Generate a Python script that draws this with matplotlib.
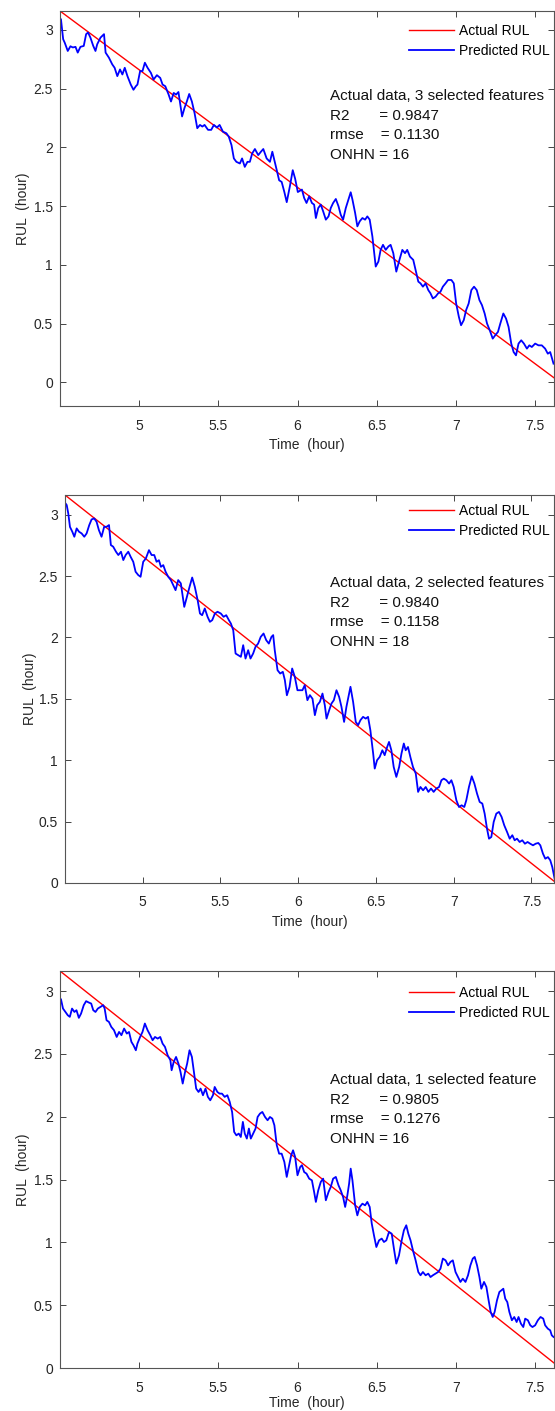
import matplotlib
matplotlib.use('Agg')
import matplotlib.pyplot as plt

plt.rcParams['font.family'] = 'Liberation Sans'

W, H = 555, 1411

# actual remaining useful life (straight countdown)
actual_time = [4.5, 7.66]
actual_rul = [3.16, 0.0]

# predicted RUL, 3 selected features
time_f3 = [4.496, 4.506, 4.52, 4.53, 4.549, 4.566, 4.581, 4.598, 4.612, 4.629, 4.65, 4.665, 4.677, 4.692,
           4.71, 4.724, 4.735, 4.756, 4.778, 4.788, 4.809, 4.83, 4.845, 4.862, 4.879, 4.894, 4.909, 4.926,
           4.947, 4.964, 4.979, 4.989, 5.006, 5.021, 5.036, 5.053, 5.074, 5.091, 5.112, 5.133, 5.148, 5.165,
           5.186, 5.201, 5.218, 5.233, 5.248, 5.271, 5.286, 5.301, 5.316, 5.333, 5.35, 5.367, 5.384, 5.399,
           5.413, 5.435, 5.455, 5.472, 5.491, 5.508, 5.529, 5.551, 5.566, 5.583, 5.598, 5.614, 5.636, 5.65,
           5.667, 5.684, 5.699, 5.714, 5.731, 5.752, 5.769, 5.784, 5.805, 5.826, 5.841, 5.854, 5.869, 5.884,
           5.9, 5.917, 5.932, 5.953, 5.97, 5.985, 6.002, 6.028, 6.042, 6.057, 6.074, 6.091, 6.105, 6.116,
           6.131, 6.147, 6.162, 6.179, 6.196, 6.21, 6.225, 6.242, 6.259, 6.273, 6.288, 6.305, 6.322, 6.336,
           6.347, 6.364, 6.378, 6.393, 6.41, 6.427, 6.441, 6.456, 6.473, 6.494, 6.511, 6.525, 6.54, 6.557,
           6.574, 6.588, 6.605, 6.624, 6.641, 6.662, 6.679, 6.693, 6.71, 6.731, 6.746, 6.763, 6.777, 6.792,
           6.809, 6.826, 6.84, 6.855, 6.872, 6.888, 6.903, 6.918, 6.935, 6.951, 6.972, 6.987, 7.002, 7.019,
           7.033, 7.05, 7.065, 7.081, 7.098, 7.115, 7.132, 7.149, 7.165, 7.182, 7.197, 7.214, 7.233, 7.249,
           7.266, 7.281, 7.3, 7.317, 7.333, 7.35, 7.365, 7.38, 7.396, 7.413, 7.43, 7.449, 7.464, 7.48,
           7.501, 7.522, 7.543, 7.564, 7.581, 7.596, 7.611, 7.617]
rul_f3 = [3.10, 3.09, 2.92, 2.89, 2.82, 2.86, 2.85, 2.855, 2.806, 2.855, 2.863, 2.963, 2.977, 2.934,
          2.863, 2.82, 2.877, 2.934, 2.963, 2.806, 2.763, 2.706, 2.677, 2.606, 2.663, 2.62, 2.677, 2.606,
          2.534, 2.49, 2.52, 2.534, 2.649, 2.649, 2.72, 2.677, 2.634, 2.577, 2.614, 2.591, 2.534, 2.52,
          2.449, 2.39, 2.463, 2.449, 2.471, 2.263, 2.334, 2.39, 2.454, 2.39, 2.291, 2.163, 2.191, 2.177,
          2.191, 2.149, 2.149, 2.191, 2.169, 2.191, 2.134, 2.12, 2.091, 2.02, 1.906, 1.877, 1.863, 1.906,
          1.834, 1.877, 1.877, 1.949, 1.986, 1.934, 1.963, 1.986, 1.906, 1.877, 1.963, 1.891, 1.806, 1.72,
          1.706, 1.62, 1.534, 1.677, 1.806, 1.734, 1.62, 1.641, 1.57, 1.527, 1.584, 1.527, 1.513, 1.399,
          1.484, 1.513, 1.456, 1.385, 1.413, 1.484, 1.527, 1.561, 1.499, 1.427, 1.385, 1.484, 1.556, 1.618,
          1.556, 1.442, 1.328, 1.371, 1.399, 1.385, 1.413, 1.385, 1.242, 0.986, 1.029, 1.128, 1.171, 1.128,
          1.157, 1.171, 1.1, 0.943, 1.029, 1.128, 1.1, 1.128, 1.071, 1.043, 0.957, 0.858, 0.843, 0.815,
          0.843, 0.786, 0.758, 0.715, 0.73, 0.758, 0.772, 0.815, 0.843, 0.872, 0.872, 0.843, 0.672, 0.559,
          0.487, 0.53, 0.616, 0.672, 0.786, 0.815, 0.786, 0.701, 0.658, 0.587, 0.502, 0.445, 0.373, 0.402,
          0.43, 0.502, 0.587, 0.544, 0.473, 0.331, 0.259, 0.231, 0.331, 0.359, 0.331, 0.288, 0.316, 0.302,
          0.331, 0.316, 0.316, 0.288, 0.245, 0.259, 0.188, 0.16]

# predicted RUL, 2 selected features
time_f2 = [4.5, 4.511, 4.521, 4.532, 4.547, 4.56, 4.575, 4.59, 4.607, 4.624, 4.639, 4.656, 4.671, 4.688,
           4.703, 4.718, 4.735, 4.752, 4.767, 4.783, 4.795, 4.81, 4.828, 4.843, 4.86, 4.875, 4.89, 4.907,
           4.922, 4.939, 4.954, 4.971, 4.986, 5.003, 5.02, 5.04, 5.057, 5.074, 5.089, 5.104, 5.117, 5.132,
           5.147, 5.164, 5.181, 5.196, 5.211, 5.228, 5.245, 5.267, 5.284, 5.301, 5.318, 5.335, 5.353, 5.368,
           5.382, 5.399, 5.417, 5.432, 5.447, 5.464, 5.481, 5.502, 5.52, 5.537, 5.554, 5.567, 5.582, 5.597,
           5.614, 5.631, 5.646, 5.661, 5.678, 5.693, 5.71, 5.725, 5.742, 5.759, 5.777, 5.794, 5.811, 5.828,
           5.839, 5.849, 5.867, 5.884, 5.901, 5.914, 5.927, 5.944, 5.961, 5.978, 5.995, 6.027, 6.042, 6.059,
           6.075, 6.092, 6.107, 6.122, 6.139, 6.156, 6.171, 6.182, 6.199, 6.214, 6.229, 6.246, 6.263, 6.278,
           6.295, 6.31, 6.325, 6.336, 6.353, 6.37, 6.385, 6.4, 6.417, 6.434, 6.449, 6.464, 6.482, 6.492,
           6.507, 6.524, 6.541, 6.556, 6.572, 6.584, 6.599, 6.614, 6.631, 6.649, 6.664, 6.679, 6.691, 6.706,
           6.721, 6.738, 6.756, 6.771, 6.786, 6.803, 6.82, 6.837, 6.854, 6.871, 6.888, 6.906, 6.921, 6.936,
           6.953, 6.97, 6.985, 7.0, 7.017, 7.034, 7.051, 7.068, 7.081, 7.098, 7.116, 7.133, 7.15, 7.167,
           7.184, 7.199, 7.214, 7.227, 7.242, 7.257, 7.274, 7.291, 7.308, 7.325, 7.343, 7.36, 7.377, 7.392,
           7.407, 7.424, 7.441, 7.458, 7.475, 7.492, 7.51, 7.527, 7.544, 7.557, 7.574, 7.589, 7.606, 7.621,
           7.634, 7.649]
rul_f2 = [3.097, 3.078, 3.01, 2.90, 2.861, 2.82, 2.888, 2.861, 2.847, 2.82, 2.847, 2.915, 2.961, 2.969,
          2.942, 2.874, 2.82, 2.901, 2.901, 2.915, 2.752, 2.739, 2.698, 2.671, 2.698, 2.63, 2.671, 2.698,
          2.657, 2.616, 2.535, 2.508, 2.494, 2.616, 2.643, 2.711, 2.671, 2.671, 2.616, 2.629, 2.575, 2.589,
          2.535, 2.494, 2.467, 2.426, 2.385, 2.467, 2.44, 2.249, 2.331, 2.412, 2.488, 2.412, 2.304, 2.195,
          2.181, 2.236, 2.168, 2.127, 2.141, 2.195, 2.209, 2.195, 2.168, 2.181, 2.141, 2.113, 2.059, 1.869,
          1.855, 1.842, 1.937, 1.828, 1.896, 1.828, 1.869, 1.923, 1.95, 2.005, 2.032, 1.978, 1.95, 2.005,
          2.019, 1.896, 1.733, 1.706, 1.72, 1.652, 1.529, 1.597, 1.747, 1.679, 1.57, 1.57, 1.611, 1.489,
          1.53, 1.50, 1.367, 1.448, 1.475, 1.543, 1.448, 1.339, 1.407, 1.462, 1.489, 1.57, 1.516, 1.435,
          1.312, 1.435, 1.53, 1.598, 1.475, 1.312, 1.285, 1.326, 1.353, 1.339, 1.353, 1.244, 1.054, 0.932,
          1.0, 1.027, 1.081, 1.041, 1.108, 1.149, 1.081, 0.945, 0.864, 0.945, 1.054, 1.136, 1.081, 1.108,
          1.027, 0.945, 0.891, 0.742, 0.782, 0.755, 0.782, 0.742, 0.769, 0.742, 0.769, 0.782, 0.837, 0.85,
          0.837, 0.81, 0.837, 0.782, 0.674, 0.619, 0.633, 0.619, 0.674, 0.782, 0.869, 0.81, 0.728, 0.66,
          0.647, 0.565, 0.443, 0.361, 0.375, 0.497, 0.565, 0.579, 0.538, 0.47, 0.416, 0.361, 0.389, 0.348,
          0.361, 0.334, 0.348, 0.32, 0.334, 0.32, 0.307, 0.32, 0.326, 0.307, 0.239, 0.198, 0.211, 0.185,
          0.13, 0.035]

# predicted RUL, 1 selected feature
time_f1 = [4.496, 4.506, 4.519, 4.534, 4.549, 4.562, 4.576, 4.591, 4.604, 4.619, 4.633, 4.65, 4.665, 4.682,
           4.697, 4.71, 4.724, 4.739, 4.756, 4.773, 4.782, 4.794, 4.809, 4.824, 4.841, 4.858, 4.873, 4.888,
           4.905, 4.922, 4.936, 4.951, 4.964, 4.979, 4.989, 5.006, 5.021, 5.036, 5.053, 5.07, 5.085, 5.1,
           5.117, 5.133, 5.148, 5.163, 5.18, 5.197, 5.205, 5.218, 5.233, 5.248, 5.261, 5.275, 5.29, 5.303,
           5.318, 5.333, 5.346, 5.36, 5.375, 5.388, 5.403, 5.419, 5.434, 5.449, 5.466, 5.477, 5.494, 5.508,
           5.523, 5.54, 5.557, 5.572, 5.587, 5.6, 5.614, 5.629, 5.642, 5.655, 5.667, 5.68, 5.693, 5.705,
           5.72, 5.735, 5.748, 5.763, 5.778, 5.795, 5.811, 5.826, 5.841, 5.854, 5.869, 5.884, 5.9, 5.917,
           5.932, 5.947, 5.96, 5.972, 5.985, 6.0, 6.017, 6.028, 6.042, 6.057, 6.074, 6.091, 6.105, 6.116,
           6.131, 6.147, 6.162, 6.179, 6.196, 6.21, 6.225, 6.242, 6.259, 6.273, 6.288, 6.301, 6.315, 6.326,
           6.336, 6.347, 6.364, 6.378, 6.393, 6.41, 6.427, 6.441, 6.456, 6.469, 6.483, 6.498, 6.515, 6.532,
           6.546, 6.561, 6.578, 6.595, 6.609, 6.624, 6.641, 6.658, 6.672, 6.687, 6.7, 6.714, 6.729, 6.746,
           6.763, 6.777, 6.792, 6.809, 6.826, 6.84, 6.855, 6.872, 6.888, 6.903, 6.918, 6.935, 6.951, 6.966,
           6.981, 6.998, 7.014, 7.029, 7.044, 7.061, 7.077, 7.092, 7.107, 7.119, 7.134, 7.149, 7.161, 7.178,
           7.193, 7.207, 7.22, 7.233, 7.245, 7.26, 7.275, 7.287, 7.3, 7.312, 7.325, 7.338, 7.354, 7.369,
           7.384, 7.396, 7.411, 7.426, 7.438, 7.455, 7.47, 7.484, 7.501, 7.518, 7.535, 7.552, 7.564, 7.581,
           7.596, 7.606, 7.617]
rul_f1 = [2.941, 2.936, 2.861, 2.834, 2.808, 2.795, 2.861, 2.834, 2.848, 2.787, 2.821, 2.888, 2.92, 2.909,
          2.901, 2.848, 2.834, 2.861, 2.874, 2.888, 2.861, 2.768, 2.755, 2.715, 2.689, 2.635, 2.675, 2.649,
          2.702, 2.662, 2.675, 2.596, 2.569, 2.529, 2.582, 2.635, 2.675, 2.742, 2.689, 2.649, 2.609, 2.635,
          2.622, 2.635, 2.582, 2.556, 2.489, 2.45, 2.37, 2.436, 2.476, 2.423, 2.357, 2.264, 2.357, 2.423,
          2.529, 2.476, 2.357, 2.224, 2.197, 2.224, 2.171, 2.224, 2.158, 2.131, 2.171, 2.237, 2.197, 2.184,
          2.184, 2.158, 2.171, 2.118, 2.038, 1.879, 1.852, 1.866, 1.839, 1.959, 1.866, 1.826, 1.906, 1.826,
          1.866, 1.906, 1.998, 2.025, 2.038, 1.998, 1.972, 1.998, 1.985, 1.932, 1.773, 1.706, 1.706, 1.64,
          1.521, 1.614, 1.693, 1.733, 1.68, 1.534, 1.60, 1.614, 1.56, 1.547, 1.507, 1.494, 1.401, 1.322,
          1.414, 1.481, 1.507, 1.335, 1.401, 1.441, 1.507, 1.521, 1.454, 1.414, 1.361, 1.282, 1.375, 1.468,
          1.587, 1.494, 1.295, 1.215, 1.282, 1.308, 1.295, 1.322, 1.282, 1.149, 1.056, 0.963, 1.016, 1.03,
          1.003, 1.016, 1.083, 1.069, 0.95, 0.831, 0.897, 1.016, 1.096, 1.136, 1.069, 1.016, 0.937, 0.857,
          0.764, 0.738, 0.764, 0.738, 0.751, 0.724, 0.738, 0.751, 0.764, 0.791, 0.871, 0.857, 0.817, 0.844,
          0.857, 0.764, 0.724, 0.685, 0.711, 0.685, 0.738, 0.817, 0.871, 0.884, 0.817, 0.724, 0.631, 0.685,
          0.645, 0.539, 0.446, 0.406, 0.446, 0.539, 0.605, 0.618, 0.631, 0.552, 0.525, 0.446, 0.38, 0.406,
          0.366, 0.406, 0.353, 0.326, 0.393, 0.38, 0.34, 0.326, 0.34, 0.38, 0.406, 0.393, 0.34, 0.313,
          0.30, 0.26, 0.247]

titles = ['Actual data, 3 selected features', 'Actual data, 2 selected features',
          'Actual data, 1 selected feature']
r2_vals = ['0.9847', '0.9840', '0.9805']
rmse_vals = ['0.1130', '0.1158', '0.1276']
onhn_vals = [16, 18, 16]
series = [(time_f3, rul_f3), (time_f2, rul_f2), (time_f1, rul_f1)]

x_ticks = [5, 5.5, 6, 6.5, 7, 7.5]
y_ticks = [0, 0.5, 1, 1.5, 2, 2.5, 3]

# axes boxes in pixels: left, top, right, bottom
boxes = [(60, 11, 554, 406), (65, 495, 554, 883), (60, 971, 554, 1368)]
xlims = [(4.5, 7.62), (4.5, 7.645), (4.5, 7.62)]
ylims = [(-0.2, 3.16), (0, 3.16), (0, 3.16)]
legend_top = [24, 504, 986]
text_top = [89, 576, 1073]
ylabel_pad = [3, 1, 3]
xlabel_pad = [4, 4, 1]

ink = '#262626'

fig = plt.figure(figsize=(W / 100, H / 100), dpi=100)

for i in range(3):
    l, t, r, b = boxes[i]
    ax = fig.add_axes([l / W, 1 - b / H, (r - l) / W, (b - t) / H])
    ax.plot(actual_time, actual_rul, color='red', lw=1.0, label='Actual RUL')
    ax.plot(series[i][0], series[i][1], color='blue', lw=1.3, label='Predicted RUL')
    ax.set_xlim(*xlims[i])
    ax.set_ylim(*ylims[i])
    ax.set_xticks(x_ticks)
    ax.set_yticks(y_ticks)
    ax.set_xticklabels(['%g' % v for v in x_ticks])
    ax.set_yticklabels(['%g' % v for v in y_ticks])
    ax.tick_params(direction='in', top=True, right=True, length=4, width=0.6,
                   colors=ink, labelsize=10)
    ax.tick_params(axis='x', pad=9)
    ax.tick_params(axis='y', pad=5)
    for sp in ax.spines.values():
        sp.set_color('#555555')
        sp.set_linewidth(0.8)
    ax.set_xlabel('Time  (hour)', fontsize=10, color=ink, labelpad=xlabel_pad[i])
    ax.set_ylabel('RUL  (hour)', fontsize=10, color=ink, labelpad=ylabel_pad[i])

    ax.legend(loc='upper right', bbox_to_anchor=(550 / W, 1 - legend_top[i] / H),
              bbox_transform=fig.transFigure, frameon=False, fontsize=10,
              handlelength=3.3, handletextpad=0.35, labelspacing=0.4,
              borderpad=0, borderaxespad=0)

    lines = [titles[i],
             'R2       = ' + r2_vals[i],
             'rmse    = ' + rmse_vals[i],
             'ONHN = %d' % onhn_vals[i]]
    for k, s in enumerate(lines):
        fig.text(330 / W, 1 - (text_top[i] + 19.7 * k) / H, s, fontsize=11,
                 color='#111111', va='top', ha='left')

fig.savefig('out.png', dpi=100)
